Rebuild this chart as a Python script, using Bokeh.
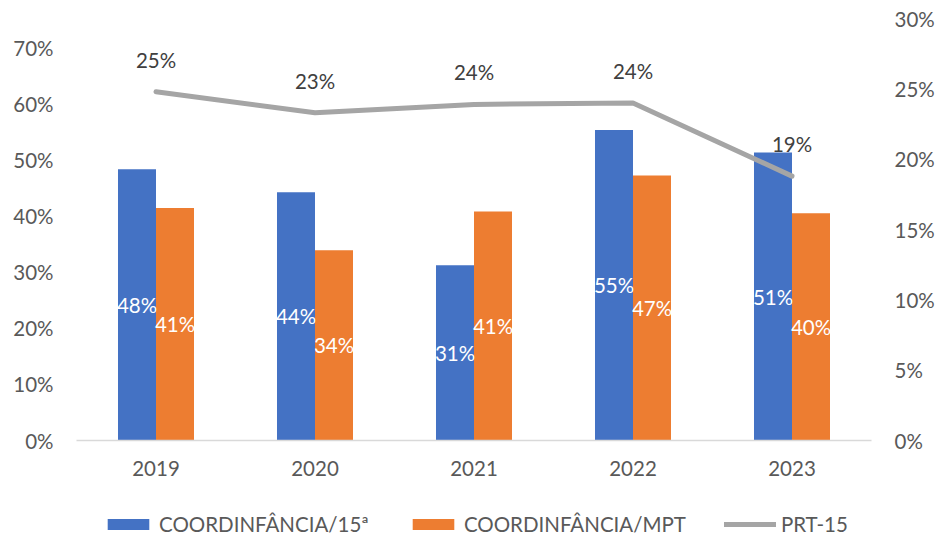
from bokeh.plotting import figure
from bokeh.layouts import column
from bokeh.models import (ColumnDataSource, FactorRange, Range1d, LinearAxis, FixedTicker,
                          NumeralTickFormatter, Legend, LegendItem, LabelSet)
from bokeh.transform import dodge
from bokeh.core.properties import value
from bokeh.embed import file_html
from bokeh.resources import INLINE

years = ["2019", "2020", "2021", "2022", "2023"]
coord_15 = [0.483, 0.442, 0.312, 0.553, 0.513]
coord_mpt = [0.414, 0.339, 0.408, 0.472, 0.405]
prt_15 = [0.248, 0.233, 0.239, 0.240, 0.188]
left_ticks = [0, 0.1, 0.2, 0.3, 0.4, 0.5, 0.6, 0.7]
right_ticks = [0, 0.05, 0.10, 0.15, 0.20, 0.25, 0.30]
series_names = ["COORDINFÂNCIA/15ª", "COORDINFÂNCIA/MPT", "PRT-15"]

FONT = "Lato"
FS = "20.5px"
BLUE = "#4472C4"
ORANGE = "#ED7D31"
GRAY = "#A5A5A5"
TICK_COLOR = "#595959"

def pct(v):
    return f"{round(v * 100):d}%"

src = ColumnDataSource(dict(
    year=years,
    c15=coord_15,
    mpt=coord_mpt,
    prt=prt_15,
    c15_mid=[v / 2 for v in coord_15],
    mpt_mid=[v / 2 for v in coord_mpt],
    c15_lbl=[pct(v) for v in coord_15],
    mpt_lbl=[pct(v) for v in coord_mpt],
    prt_lbl=[pct(v) for v in prt_15],
))

p = figure(x_range=FactorRange(*years, range_padding=0), y_range=Range1d(0, 0.7535),
           width=937, height=500, output_backend="svg", toolbar_location=None,
           min_border_left=76, min_border_right=66, min_border_top=17, min_border_bottom=60)
p.outline_line_color = None
p.xgrid.grid_line_color = None
p.ygrid.grid_line_color = None
p.extra_y_ranges = {"r": Range1d(0, 0.3008)}

bw = 0.239
bar_kw = dict(width=bw, source=src, line_color=None)
p.vbar(x=dodge("year", -bw / 2, range=p.x_range), top="c15", fill_color=BLUE, **bar_kw)
p.vbar(x=dodge("year", bw / 2, range=p.x_range), top="mpt", fill_color=ORANGE, **bar_kw)
line_kw = dict(line_color=GRAY, line_width=5, line_join="round", line_cap="round")
p.line(x="year", y="prt", source=src, y_range_name="r", **line_kw)

p.text(x=dodge("year", -bw / 2, range=p.x_range), y="c15_mid", text="c15_lbl", source=src,
       text_color="white", text_font=value(FONT), text_font_size=FS,
       text_align="center", text_baseline="middle")
p.text(x=dodge("year", bw / 2, range=p.x_range), y="mpt_mid", text="mpt_lbl", source=src,
       text_color="white", text_font=value(FONT), text_font_size=FS,
       text_align="center", text_baseline="middle")
labels = LabelSet(x="year", y="prt", text="prt_lbl", source=src, y_range_name="r",
                  y_offset=32, text_align="center", text_baseline="middle",
                  text_color="#404040", text_font=value(FONT), text_font_size=value(FS))
p.add_layout(labels)

# axes
p.xaxis.axis_line_color = "#D9D9D9"
p.xaxis.axis_line_width = 1.5
p.xaxis.major_tick_line_color = None
p.xaxis.minor_tick_line_color = None
p.xaxis.major_tick_out = 0
p.xaxis.major_tick_in = 0
p.xaxis.major_label_standoff = 20
p.xaxis.major_label_text_font = FONT
p.xaxis.major_label_text_font_size = FS
p.xaxis.major_label_text_color = TICK_COLOR

p.yaxis.ticker = FixedTicker(ticks=left_ticks)
p.yaxis.formatter = NumeralTickFormatter(format="0%")

ra = LinearAxis(y_range_name="r", ticker=FixedTicker(ticks=right_ticks),
                formatter=NumeralTickFormatter(format="0%"))
p.add_layout(ra, "right")

for ax in [p.yaxis[0], ra]:
    ax.axis_line_color = None
    ax.major_tick_line_color = None
    ax.minor_tick_line_color = None
    ax.major_tick_out = 0
    ax.major_tick_in = 0
    ax.major_label_standoff = 23
    ax.major_label_text_font = FONT
    ax.major_label_text_font_size = FS
    ax.major_label_text_color = TICK_COLOR

# legend strip below the chart (its own glyphs stay outside its visible range)
leg = figure(width=937, height=37, output_backend="svg", toolbar_location=None,
             x_range=FactorRange(*years, range_padding=0), y_range=Range1d(2, 3),
             x_axis_location=None, y_axis_location=None,
             min_border_left=76, min_border_right=66, min_border_top=0, min_border_bottom=0,
             outline_line_color=None)
leg.xgrid.grid_line_color = None
leg.ygrid.grid_line_color = None
d1 = leg.vbar(x="year", top="c15", fill_color=BLUE, **bar_kw)
d2 = leg.vbar(x="year", top="mpt", fill_color=ORANGE, **bar_kw)
d3 = leg.line(x="year", y="prt", source=src, **line_kw)

legend = Legend(items=[LegendItem(label=series_names[0], renderers=[d1]),
                       LegendItem(label=series_names[1], renderers=[d2]),
                       LegendItem(label=series_names[2], renderers=[d3])],
                orientation="horizontal", location=(26, 1),
                glyph_width=52, glyph_height=14, label_standoff=5, spacing=38,
                padding=0, margin=0, border_line_color=None, background_fill_alpha=0,
                label_text_font=FONT, label_text_font_size=FS,
                label_text_color=TICK_COLOR)
leg.add_layout(legend, "center")

page = column(p, leg, spacing=0)
open("out.html", "w").write(file_html(page, INLINE))
